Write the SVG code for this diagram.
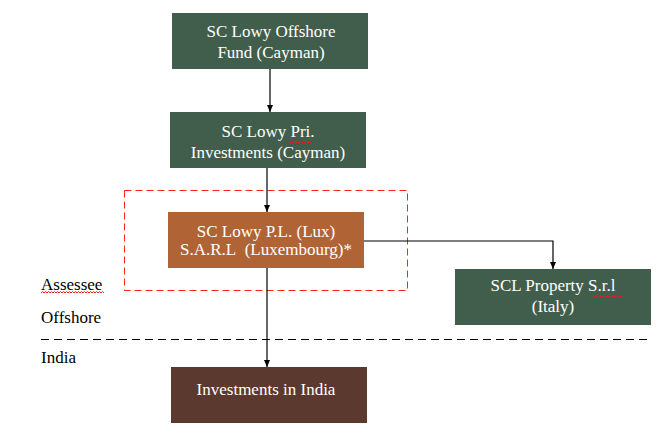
<svg xmlns="http://www.w3.org/2000/svg" width="668" height="441" viewBox="0 0 668 441">
<defs>
<style>
.t{font-family:"Liberation Serif","Times New Roman",serif;font-size:17px;fill:#ffffff;text-anchor:middle}
.l{font-family:"Liberation Serif","Times New Roman",serif;font-size:17px;fill:#000000}
.c{stroke:#000;stroke-width:1.2;fill:none}
.sq{stroke:#e02020;stroke-width:1;fill:none}
</style>
<marker id="ah" markerWidth="8" markerHeight="6" refX="7" refY="3" orient="auto" markerUnits="userSpaceOnUse">
<path d="M0,0 L7,3 L0,6 Z" fill="#000"/>
</marker>
</defs>
<rect width="668" height="441" fill="#fff"/>
<g id="boundary-assessee">
<rect x="124.5" y="190.5" width="283" height="100" fill="none" stroke="#ff2020" stroke-width="1" stroke-dasharray="7,4"/>
</g>
<g id="offshore-india-line">
<line x1="41" y1="339.5" x2="652" y2="339.5" stroke="#000" stroke-width="1.2" stroke-dasharray="8,5"/>
</g>
<g id="connectors">
<line class="c" x1="270" y1="69" x2="270" y2="112" marker-end="url(#ah)"/>
<line class="c" x1="267" y1="168" x2="267" y2="212" marker-end="url(#ah)"/>
<polyline class="c" points="364,241 553,241 553,269" marker-end="url(#ah)"/>
<line class="c" x1="267" y1="268" x2="267" y2="367" marker-end="url(#ah)"/>
</g>
<g id="fund">
<rect x="172" y="13" width="196" height="56" fill="#415e4c"/>
<text class="t" x="271" y="37">SC Lowy Offshore</text>
<text class="t" x="271" y="58">Fund (Cayman)</text>
</g>
<g id="pri">
<rect x="170" y="112" width="196" height="56" fill="#415e4c"/>
<text class="t" x="268" y="137">SC Lowy Pri.</text>
<text class="t" x="268" y="158">Investments (Cayman)</text>
<path class="sq" d="M290,143 l1.5,-1.5 l1.5,1.5 l1.5,-1.5 l1.5,1.5 l1.5,-1.5 l1.5,1.5 l1.5,-1.5 l1.5,1.5 l1.5,-1.5 l1.5,1.5 l1.5,-1.5 l1.5,1.5 l1.5,-1.5 l1.5,1.5"/>
</g>
<g id="lux">
<rect x="168" y="212" width="196" height="56" fill="#b06436"/>
<text class="t" x="266" y="237">SC Lowy P.L. (Lux)</text>
<text class="t" x="266" y="255">S.A.R.L&#160; (Luxembourg)*</text>
</g>
<g id="italy">
<rect x="455" y="269" width="196" height="56" fill="#415e4c"/>
<text class="t" x="553" y="291">SCL Property S.r.l</text>
<text class="t" x="553" y="312">(Italy)</text>
<path class="sq" d="M594,297 l1.5,-1.5 l1.5,1.5 l1.5,-1.5 l1.5,1.5 l1.5,-1.5 l1.5,1.5 l1.5,-1.5 l1.5,1.5 l1.5,-1.5 l1.5,1.5 l1.5,-1.5 l1.5,1.5 l1.5,-1.5 l1.5,1.5 l1.5,-1.5 l1.5,1.5 l1.5,-1.5 l1.5,1.5"/>
</g>
<g id="india">
<rect x="171" y="367" width="196" height="56" fill="#5c392e"/>
<text class="t" x="266" y="395">Investments in India</text>
</g>
<g id="labels">
<text class="l" x="41" y="290">Assessee</text>
<path class="sq" d="M41,293 l1.5,-1.5 l1.5,1.5 l1.5,-1.5 l1.5,1.5 l1.5,-1.5 l1.5,1.5 l1.5,-1.5 l1.5,1.5 l1.5,-1.5 l1.5,1.5 l1.5,-1.5 l1.5,1.5 l1.5,-1.5 l1.5,1.5 l1.5,-1.5 l1.5,1.5 l1.5,-1.5 l1.5,1.5 l1.5,-1.5 l1.5,1.5 l1.5,-1.5 l1.5,1.5 l1.5,-1.5 l1.5,1.5 l1.5,-1.5 l1.5,1.5 l1.5,-1.5 l1.5,1.5 l1.5,-1.5 l1.5,1.5 l1.5,-1.5 l1.5,1.5 l1.5,-1.5 l1.5,1.5 l1.5,-1.5 l1.5,1.5 l1.5,-1.5 l1.5,1.5 l1.5,-1.5 l1.5,1.5 l1.5,-1.5 l1.5,1.5"/>
<text class="l" x="41" y="323">Offshore</text>
<text class="l" x="41" y="363">India</text>
</g>
</svg>
